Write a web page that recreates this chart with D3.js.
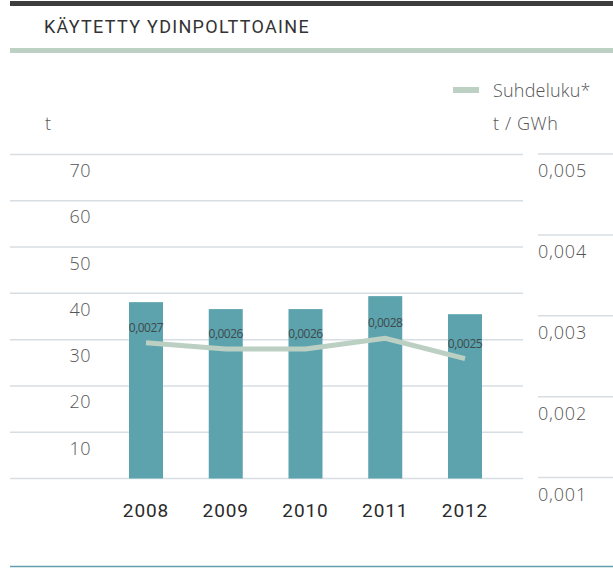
<!DOCTYPE html>
<html>
  <head>
    <meta charset="utf-8">
    <title>Käytetty ydinpolttoaine</title>
    <script src="https://cdnjs.cloudflare.com/ajax/libs/d3/7.8.5/d3.min.js"></script>
    <style>
      body { margin: 0; background: #fff; }
      text { font-family: "Open Sans", Roboto, sans-serif; }
    </style>
  </head>
  <body>
    <svg id="chart" width="613" height="568"></svg>

    <script>
      // data
      var years = ["2008", "2009", "2010", "2011", "2012"];
      var fuelTonnes = [38.1, 36.6, 36.6, 39.4, 35.5];
      var ratio = [0.002665, 0.00259, 0.00259, 0.00272, 0.00247];
      var ratioLabels = ["0,0027", "0,0026", "0,0026", "0,0028", "0,0025"];
      var leftTicks = [0, 10, 20, 30, 40, 50, 60, 70];
      var rightTicks = [0.001, 0.002, 0.003, 0.004, 0.005];

      var svg = d3.select("#chart");

      // header
      svg.append("rect")
        .attr("x", 10).attr("y", 1).attr("width", 603).attr("height", 5)
        .attr("fill", "#3d3d3d");
      svg.append("text")
        .attr("x", 44).attr("y", 33)
        .style("font-family", "Roboto, sans-serif")
        .style("font-size", "18px")
        .style("font-weight", 400)
        .style("letter-spacing", "1.3px")
        .attr("fill", "#333")
        .text("KÄYTETTY YDINPOLTTOAINE");
      svg.append("rect")
        .attr("x", 10).attr("y", 48).attr("width", 603).attr("height", 5)
        .attr("fill", "#bcd0c4");

      // scales
      var x = d3.scalePoint().domain(years).range([146, 465]);
      var barWidth = 34;
      var yLeft = d3.scaleLinear().domain([0, 70]).range([478.5, 154.5]);
      var yRight = d3.scaleLinear().domain([0.001, 0.005]).range([477.5, 154]);
      var fmt = function(v) { return d3.format(".3f")(v).replace(".", ","); };

      // left grid + labels
      svg.append("g").selectAll("line")
        .data(leftTicks)
        .enter().append("line")
          .attr("x1", 10).attr("x2", 523)
          .attr("y1", function(d) { return yLeft(d); })
          .attr("y2", function(d) { return yLeft(d); })
          .attr("stroke", "#d6dee3").attr("stroke-width", 1.5);
      svg.append("g").selectAll("text")
        .data(leftTicks.filter(function(d) { return d > 0; }))
        .enter().append("text")
          .attr("x", 91)
          .attr("y", function(d) { return yLeft(d) + 22.5; })
          .attr("text-anchor", "end")
          .style("font-size", "18px")
          .style("font-weight", 300)
          .style("letter-spacing", "0.5px")
          .attr("fill", "#555")
          .text(function(d) { return d; });

      // right grid + labels
      svg.append("g").selectAll("line")
        .data(rightTicks)
        .enter().append("line")
          .attr("x1", 538).attr("x2", 613)
          .attr("y1", function(d) { return yRight(d); })
          .attr("y2", function(d) { return yRight(d); })
          .attr("stroke", "#d6dee3").attr("stroke-width", 1.5);
      svg.append("g").selectAll("text")
        .data(rightTicks)
        .enter().append("text")
          .attr("x", 538)
          .attr("y", function(d) { return yRight(d) + 23; })
          .style("font-size", "18px")
          .style("font-weight", 300)
          .style("letter-spacing", "0.8px")
          .attr("fill", "#555")
          .text(fmt);

      // axis titles + legend
      svg.append("text")
        .attr("x", 45).attr("y", 130)
        .style("font-size", "18px").style("font-weight", 300)
        .attr("fill", "#555").text("t");
      svg.append("text")
        .attr("x", 493).attr("y", 130)
        .style("font-size", "18px").style("font-weight", 300)
        .style("letter-spacing", "0.6px")
        .attr("fill", "#555").text("t / GWh");
      svg.append("rect")
        .attr("x", 453).attr("y", 87).attr("width", 26).attr("height", 6)
        .attr("fill", "#bcd0c4");
      svg.append("text")
        .attr("x", 493).attr("y", 97)
        .style("font-size", "18px").style("font-weight", 300)
        .style("letter-spacing", "0.2px")
        .attr("fill", "#555").text("Suhdeluku*");

      // bars
      svg.append("g").selectAll("rect")
        .data(years)
        .enter().append("rect")
          .attr("x", function(d) { return x(d) - barWidth / 2; })
          .attr("y", function(d, i) { return yLeft(fuelTonnes[i]); })
          .attr("width", barWidth)
          .attr("height", function(d, i) { return yLeft(0) - yLeft(fuelTonnes[i]); })
          .attr("fill", "#5ca3ae");

      // ratio line
      var line = d3.line()
        .x(function(d, i) { return x(years[i]); })
        .y(function(d) { return yRight(d); });
      svg.append("path")
        .datum(ratio)
        .attr("d", line)
        .attr("fill", "none")
        .attr("stroke", "#bccfc3")
        .attr("stroke-width", 5);

      // ratio labels
      svg.append("g").selectAll("text")
        .data(ratio)
        .enter().append("text")
          .attr("x", function(d, i) { return x(years[i]); })
          .attr("y", function(d) { return yRight(d) - 11; })
          .attr("text-anchor", "middle")
          .style("font-size", "12px")
          .style("letter-spacing", "-0.5px")
          .attr("fill", "#3f4a4c")
          .text(function(d, i) { return ratioLabels[i]; });

      // year labels
      svg.append("g").selectAll("text")
        .data(years)
        .enter().append("text")
          .attr("x", function(d) { return x(d); })
          .attr("y", 517)
          .attr("text-anchor", "middle")
          .style("font-family", "Roboto, sans-serif")
          .style("font-size", "19px")
          .style("font-weight", 400)
          .style("letter-spacing", "0.9px")
          .attr("fill", "#2b2b2b")
          .text(function(d) { return d; });

      // bottom rule
      svg.append("line")
        .attr("x1", 10).attr("x2", 613)
        .attr("y1", 566.5).attr("y2", 566.5)
        .attr("stroke", "#5fa0aa").attr("stroke-width", 1.5);
    </script>
  </body>
</html>
